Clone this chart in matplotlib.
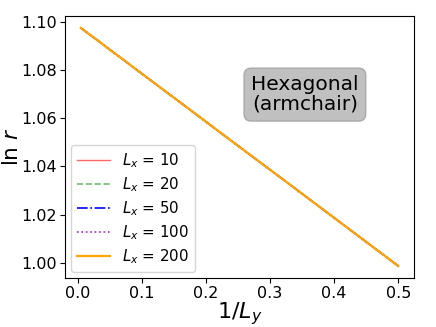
import matplotlib
matplotlib.use("Agg")
import matplotlib.pyplot as plt

# Dados (ln r em função de 1/Ly, iguais para todos os Lx)
Ly = [2, 3, 4, 5, 6, 8, 10, 15, 20, 30, 50, 100, 200]
inv_Ly = [1.0 / v for v in Ly]
ln_r = [0.9986, 1.0320, 1.0486, 1.0586, 1.0653, 1.0736, 1.0786,
        1.0853, 1.0886, 1.0920, 1.0946, 1.0966, 1.0976]

Lx_vals = [10, 20, 50, 100, 200]
cores = ["red", "green", "blue", "darkviolet", "orange"]
estilos = ["-", "--", "-.", ":", "-"]
larguras = [1.0, 1.2, 1.2, 1.2, 1.6]
alphas = [0.6, 0.55, 1.0, 0.85, 1.0]

fig = plt.figure(figsize=(4.36, 3.27), dpi=100)
ax = fig.add_axes([0.149, 0.150, 0.801, 0.801])

for lx, c, ls, lw, a in zip(Lx_vals, cores, estilos, larguras, alphas):
    ax.plot(inv_Ly, ln_r, color=c, linestyle=ls, linewidth=lw, alpha=a,
            label=r"$L_x$ = %d" % lx)

ax.set_xlabel(r"$1/L_y$", fontsize=16, labelpad=-1)
ax.set_ylabel(r"$\ln\,r$", fontsize=15.5, labelpad=-1)
ax.set_xticks([0.0, 0.1, 0.2, 0.3, 0.4, 0.5])
ax.set_yticks([1.00, 1.02, 1.04, 1.06, 1.08, 1.10])
ax.tick_params(labelsize=11.5, pad=2.5)
ax.legend(loc="lower left", fontsize=10.8, handlelength=2.2,
          labelspacing=0.35, borderaxespad=0.4, handletextpad=0.8)

ax.text(0.687, 0.70, "Hexagonal\n(armchair)", transform=ax.transAxes,
        fontsize=14.5, ha="center", va="center", linespacing=1.05,
        bbox=dict(boxstyle="round,pad=0.35", facecolor="silver",
                  edgecolor="darkgray"))

fig.savefig("out.png", dpi=100)
